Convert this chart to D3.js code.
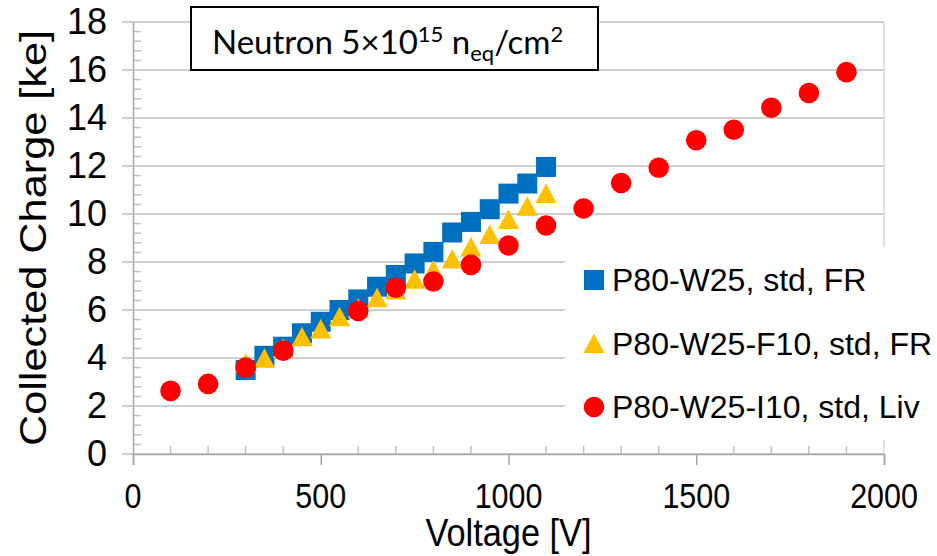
<!DOCTYPE html>
<html>
<head>
<meta charset="utf-8">
<script src="https://cdn.jsdelivr.net/npm/d3@7"></script>
<style>
  body { margin: 0; background: #fff; }
  svg { display: block; }
</style>
</head>
<body>
<svg id="chart"></svg>
<script>
// data
var seriesNames = ["P80-W25, std, FR", "P80-W25-F10, std, FR", "P80-W25-I10, std, Liv"];
var voltsA = [300, 350, 400, 450, 500, 550, 600, 650, 700, 750, 800, 850, 900, 950, 1000, 1050, 1100];
var chargeA = [3.50, 4.09, 4.47, 5.03, 5.51, 6.00, 6.44, 6.97, 7.46, 7.94, 8.42, 9.23, 9.67, 10.20, 10.85, 11.27, 11.96];
var voltsB = [300, 350, 400, 450, 500, 550, 600, 650, 700, 750, 800, 850, 900, 950, 1000, 1050, 1100];
var chargeB = [3.78, 3.99, 4.40, 4.89, 5.21, 5.72, 6.07, 6.51, 6.83, 7.28, 7.67, 8.12, 8.63, 9.15, 9.77, 10.32, 10.85];
var voltsC = [100, 200, 300, 400, 600, 700, 800, 900, 1000, 1100, 1200, 1300, 1400, 1500, 1600, 1700, 1800, 1900];
var chargeC = [2.63, 2.92, 3.60, 4.30, 5.96, 6.93, 7.19, 7.88, 8.69, 9.52, 10.23, 11.29, 11.93, 13.07, 13.51, 14.43, 15.04, 15.91];
var xTicks = [0, 500, 1000, 1500, 2000];
var yTicks = [0, 2, 4, 6, 8, 10, 12, 14, 16, 18];

var width = 937, height = 556;
var svg = d3.select("#chart").attr("width", width).attr("height", height);

var margin = {left: 133, right: 53, top: 22, bottom: 102};
var x = d3.scaleLinear().domain([0, 2000]).range([margin.left, width - margin.right]);
var y = d3.scaleLinear().domain([0, 18]).range([height - margin.bottom, margin.top]);

var gridCol = "#bfbfbf", axisCol = "#a6a6a6";
var font = "'Liberation Sans', Arial, sans-serif";

// gridlines (extend left as the major tick)
svg.append("g").selectAll("line")
    .data(yTicks)
    .enter().append("line")
    .attr("x1", x(0) - 11).attr("x2", x(2000))
    .attr("y1", function(d) { return y(d); })
    .attr("y2", function(d) { return y(d); })
    .attr("stroke", gridCol).attr("stroke-width", 1.5);

// plot area right border
svg.append("line")
    .attr("x1", x(2000)).attr("x2", x(2000))
    .attr("y1", y(18)).attr("y2", y(0))
    .attr("stroke", "#d9d9d9").attr("stroke-width", 1.5);

// minor ticks
svg.append("g").selectAll("line")
    .data(d3.range(0, 18, 0.4).filter(function(d) { return Math.abs(d / 2 - Math.round(d / 2)) > 0.01; }))
    .enter().append("line")
    .attr("x1", x(0)).attr("x2", x(0) + 8)
    .attr("y1", function(d) { return y(d); })
    .attr("y2", function(d) { return y(d); })
    .attr("stroke", gridCol).attr("stroke-width", 1.5);

svg.append("g").selectAll("line")
    .data(d3.range(100, 2000, 100).filter(function(d) { return d % 500 != 0; }))
    .enter().append("line")
    .attr("x1", function(d) { return x(d); })
    .attr("x2", function(d) { return x(d); })
    .attr("y1", y(0)).attr("y2", y(0) - 8)
    .attr("stroke", gridCol).attr("stroke-width", 1.5);

// axes
var xAxis = svg.append("g")
    .attr("transform", "translate(0," + y(0) + ")")
    .call(d3.axisBottom(x).tickValues(xTicks).tickSize(11).tickFormat(""));
var yAxis = svg.append("g")
    .attr("transform", "translate(" + x(0) + ",0)")
    .call(d3.axisLeft(y).tickValues(yTicks).tickSize(0).tickFormat(""));
[xAxis, yAxis].forEach(function(a) {
  a.select(".domain").attr("stroke", axisCol).attr("stroke-width", 1.5);
  a.selectAll(".tick line").attr("stroke", axisCol).attr("stroke-width", 1.5);
});

// tick labels
svg.append("g").selectAll("text")
    .data(yTicks)
    .enter().append("text")
    .attr("x", x(0) - 26)
    .attr("y", function(d) { return y(d) + 12; })
    .attr("text-anchor", "end")
    .style("font-family", font).style("font-size", "36px")
    .text(function(d) { return d; });

svg.append("g").selectAll("text")
    .data(xTicks)
    .enter().append("text")
    .attr("transform", function(d) { return "translate(" + x(d) + ",508) scale(0.87,1)"; })
    .attr("text-anchor", "middle")
    .style("font-family", font).style("font-size", "35px")
    .text(function(d) { return d; });

// axis titles
svg.append("text")
    .attr("transform", "translate(" + x(1000) + ",546) scale(0.88,1)")
    .attr("text-anchor", "middle")
    .style("font-family", font).style("font-size", "39px")
    .text("Voltage [V]");

svg.append("text")
    .attr("transform", "translate(46," + ((y(0) + y(18)) / 2) + ") rotate(-90) scale(1.17,1)")
    .attr("text-anchor", "middle")
    .style("font-family", font).style("font-size", "37px")
    .text("Collected Charge [ke]");

// markers
var colors = ["#0070C0", "#FFC000", "#FF0000"];
var tri = "M0,-10L10.5,9.5L-10.5,9.5Z";

svg.append("g").selectAll("rect")
    .data(d3.zip(voltsA, chargeA))
    .enter().append("rect")
    .attr("x", function(d) { return x(d[0]) - 10; })
    .attr("y", function(d) { return y(d[1]) - 10; })
    .attr("width", 20).attr("height", 20)
    .attr("fill", colors[0]);

svg.append("g").selectAll("path")
    .data(d3.zip(voltsB, chargeB))
    .enter().append("path")
    .attr("transform", function(d) { return "translate(" + x(d[0]) + "," + y(d[1]) + ")"; })
    .attr("d", tri)
    .attr("fill", colors[1]);

svg.append("g").selectAll("circle")
    .data(d3.zip(voltsC, chargeC))
    .enter().append("circle")
    .attr("cx", function(d) { return x(d[0]); })
    .attr("cy", function(d) { return y(d[1]); })
    .attr("r", 10.3)
    .attr("fill", colors[2]);

// legend
var legend = svg.append("g");
legend.append("rect")
    .attr("x", 565).attr("y", 247).attr("width", 372).attr("height", 193)
    .attr("fill", "#fff");
var items = legend.selectAll("g.item")
    .data(seriesNames)
    .enter().append("g")
    .attr("class", "item")
    .attr("transform", function(d, i) { return "translate(594," + (280 + i * 63.5) + ")"; });
items.each(function(d, i) {
  var g = d3.select(this);
  if (i == 0) g.append("rect").attr("x", -10).attr("y", -10).attr("width", 20).attr("height", 20).attr("fill", colors[0]);
  if (i == 1) g.append("path").attr("d", tri).attr("fill", colors[1]);
  if (i == 2) g.append("circle").attr("r", 10.3).attr("fill", colors[2]);
});
items.append("text")
    .attr("x", 18).attr("y", 11)
    .style("font-family", font).style("font-size", "32px")
    .text(function(d) { return d; });

// title box
svg.append("rect")
    .attr("x", 191).attr("y", 7).attr("width", 407).attr("height", 63)
    .attr("fill", "#fff").attr("stroke", "#000").attr("stroke-width", 2);
var title = svg.append("text")
    .attr("x", 212).attr("y", 54)
    .style("font-family", "Lato, 'Open Sans', sans-serif").style("font-size", "33px");
title.append("tspan").text("Neutron 5\u00d710");
title.append("tspan").attr("dy", -12).style("font-size", "22px").text("15");
title.append("tspan").attr("dy", 12).text(" n");
title.append("tspan").attr("dy", 7).style("font-size", "22px").text("eq");
title.append("tspan").attr("dy", -7).text("/cm");
title.append("tspan").attr("dy", -12).style("font-size", "22px").text("2");
</script>
</body>
</html>
